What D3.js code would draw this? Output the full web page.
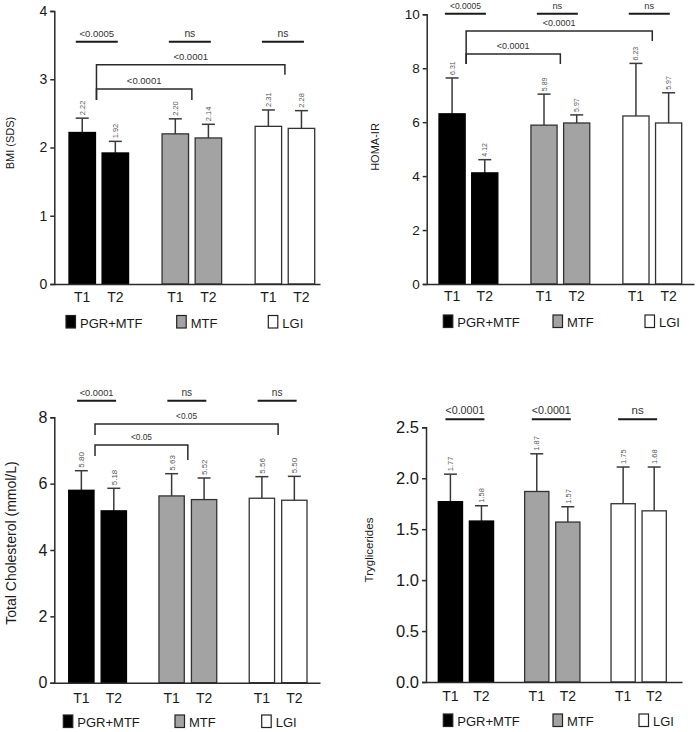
<!DOCTYPE html>
<html><head><meta charset="utf-8">
<script src="https://cdn.jsdelivr.net/npm/d3@7"></script>
<style>body{margin:0;background:#fff}svg{display:block;font-family:"Liberation Sans",Arial,sans-serif}</style>
</head><body><svg id="c" width="699" height="732"></svg>
<script>
// ---------- data ----------
const groups = ["PGR+MTF", "MTF", "LGI"];
const times = ["T1", "T2"];
const fills = ["#000000", "#a3a3a3", "#ffffff"];

const bmiMean = [2.22, 1.92, 2.20, 2.14, 2.31, 2.28];
const bmiErr  = [0.21, 0.17, 0.22, 0.20, 0.24, 0.26];
const bmiLabels = ["2.22", "1.92", "2.20", "2.14", "2.31", "2.28"];
const bmiTicks = [0, 1, 2, 3, 4];
const bmiPairs = ["<0.0005", "ns", "ns"];
const bmiBrackets = [{to: 2, label: "<0.0001"}, {to: 1, label: "<0.0001"}];

const homaMean = [6.31, 4.12, 5.89, 5.97, 6.23, 5.97];
const homaErr  = [1.33, 0.49, 1.15, 0.30, 1.95, 1.12];
const homaLabels = ["6.31", "4.12", "5.89", "5.97", "6.23", "5.97"];
const homaTicks = [0, 2, 4, 6, 8, 10];
const homaPairs = ["<0.0005", "ns", "ns"];
const homaBrackets = [{to: 2, label: "<0.0001"}, {to: 1, label: "<0.0001"}];

const cholMean = [5.80, 5.18, 5.63, 5.52, 5.56, 5.50];
const cholErr  = [0.59, 0.68, 0.67, 0.65, 0.65, 0.72];
const cholLabels = ["5.80", "5.18", "5.63", "5.52", "5.56", "5.50"];
const cholTicks = [0, 2, 4, 6, 8];
const cholPairs = ["<0.0001", "ns", "ns"];
const cholBrackets = [{to: 2, label: "<0.05"}, {to: 1, label: "<0.05"}];

const trigMean = [1.77, 1.58, 1.87, 1.57, 1.75, 1.68];
const trigErr  = [0.27, 0.15, 0.37, 0.15, 0.36, 0.43];
const trigLabels = ["1.77", "1.58", "1.87", "1.57", "1.75", "1.68"];
const trigTicks = [0, 0.5, 1.0, 1.5, 2.0, 2.5];
const trigPairs = ["<0.0001", "<0.0001", "ns"];
const trigBrackets = [];

// ---------- layout ----------
const panels = [
  {title: "BMI (SDS)", mean: bmiMean, err: bmiErr, labels: bmiLabels, ticks: bmiTicks, fmt: d3.format("d"),
   pairs: bmiPairs, brackets: bmiBrackets,
   ax: 54.3, axEnd: 320, y0: 284, y1: 11, bx: [69, 314.7], inner: 0.2, tickFont: 14, titleFont: 11, titleX: 14, titleY: 143,
   xlabY: 302, pairY: 41.7, pairFont: 9.5, pairW: 42, pairDx: -2, brY: [64.7, 89], brTickL: [35, 11], brTickR: [10, 11], brFont: 9.5,
   legY: 315.5, legX: [66, 176.7, 268.3], valFont: 7.5},
  {title: "HOMA-IR", mean: homaMean, err: homaErr, labels: homaLabels, ticks: homaTicks, fmt: d3.format("d"),
   pairs: homaPairs, brackets: homaBrackets,
   ax: 426.7, axEnd: 694, y0: 284, y1: 14.3, bx: [439, 681.7], inner: 0.2, tickFont: 13.5, titleFont: 11, titleX: 379, titleY: 147,
   xlabY: 301, pairY: 13.7, pairFont: 8.5, pairW: 41, pairDx: -3, brY: [31, 54], brTickL: [33, 10], brTickR: [10, 10], brFont: 9,
   legY: 315, legX: [443.3, 553, 645], valFont: 7},
  {title: "Total Cholesterol (mmol/L)", mean: cholMean, err: cholErr, labels: cholLabels, ticks: cholTicks, fmt: d3.format("d"),
   pairs: cholPairs, brackets: cholBrackets,
   ax: 54.3, axEnd: 320, y0: 682.7, y1: 417.3, bx: [68.7, 307], inner: 0.22, tickFont: 16, titleFont: 14, titleX: 16, titleY: 543,
   xlabY: 703, pairY: 400.7, pairFont: 9.3, pairW: 39, pairDx: -1, brY: [424, 445], brTickL: [11, 11], brTickR: [11, 15], brFont: 8.3,
   legY: 715, legX: [63.3, 175, 261.7], valFont: 8},
  {title: "Tryglicerides", mean: trigMean, err: trigErr, labels: trigLabels, ticks: trigTicks, fmt: d3.format(".1f"),
   pairs: trigPairs, brackets: trigBrackets,
   ax: 426, axEnd: 682, y0: 682, y1: 427.3, bx: [438.3, 666.3], inner: 0.22, tickFont: 16.5, titleFont: 11.5, titleX: 373, titleY: 550,
   xlabY: 701, pairY: 419.3, pairFont: 10.7, pairW: 39, pairDx: -1, brY: [], brTickL: [], brTickR: [], brFont: 9,
   legY: 714, legX: [443.3, 553, 639], valFont: 7.5}
];

const svg = d3.select("#c");
const ink = "#2b2b2b";

panels.forEach(p => {
  const g = svg.append("g");
  const y = d3.scaleLinear().domain([0, p.ticks[p.ticks.length - 1]]).range([p.y0, p.y1]);
  const xg = d3.scaleBand().domain(groups).range(p.bx).paddingInner(0.36).paddingOuter(0);
  const xt = d3.scaleBand().domain(times).range([0, xg.bandwidth()]).paddingInner(p.inner).paddingOuter(0);

  const rows = [];
  groups.forEach((gr, gi) => times.forEach((t, ti) => {
    const i = gi * 2 + ti;
    rows.push({gr, gi, t, mean: p.mean[i], err: p.err[i], label: p.labels[i], x: xg(gr) + xt(t)});
  }));
  const bw = xt.bandwidth();

  // error bars (upper only)
  const eb = g.append("g").attr("stroke", "#3a3a3a").attr("stroke-width", 1.5);
  rows.forEach(r => {
    const cx = r.x + bw / 2;
    eb.append("line").attr("x1", cx).attr("x2", cx).attr("y1", y(r.mean)).attr("y2", y(r.mean + r.err));
    eb.append("line").attr("x1", cx - 6.5).attr("x2", cx + 6.5).attr("y1", y(r.mean + r.err)).attr("y2", y(r.mean + r.err));
  });

  // bars
  g.append("g").selectAll("rect").data(rows).join("rect")
    .attr("x", d => d.x).attr("width", bw)
    .attr("y", d => y(d.mean)).attr("height", d => y(0) - y(d.mean))
    .attr("fill", d => fills[d.gi])
    .attr("stroke", d => d.gi === 0 ? "#000" : "#333").attr("stroke-width", 1.3);

  // value labels (rotated)
  g.append("g").selectAll("text").data(rows).join("text")
    .attr("transform", d => `translate(${d.x + bw / 2 + p.valFont * 0.36},${y(d.mean + d.err) - 3}) rotate(-90)`)
    .attr("font-size", p.valFont).attr("fill", "#555").text(d => d.label);

  // y axis
  const yAxis = d3.axisLeft(y).tickValues(p.ticks).tickFormat(p.fmt).tickSize(4).tickPadding(3);
  const ya = g.append("g").attr("transform", `translate(${p.ax},0)`).call(yAxis);
  ya.select(".domain").attr("stroke", ink).attr("stroke-width", 1.5);
  ya.selectAll(".tick line").attr("stroke", ink).attr("stroke-width", 1.5);
  ya.selectAll(".tick text").attr("font-size", p.tickFont).attr("fill", "#1a1a1a")
    .attr("font-family", '"Liberation Sans",Arial,sans-serif');

  // x axis baseline
  const xAxisScale = d3.scaleLinear().domain([0, 1]).range([p.ax, p.axEnd]);
  const xa = g.append("g").attr("transform", `translate(0,${p.y0})`).call(d3.axisBottom(xAxisScale).tickValues([]).tickSizeOuter(0));
  xa.select(".domain").attr("stroke", ink).attr("stroke-width", 1.5);

  // x labels T1/T2
  g.append("g").selectAll("text").data(rows).join("text")
    .attr("x", d => d.x + bw / 2).attr("y", p.xlabY).attr("text-anchor", "middle")
    .attr("font-size", 14).attr("fill", "#1a1a1a").text(d => d.t);

  // y title
  g.append("text").attr("transform", `translate(${p.titleX},${p.titleY}) rotate(-90)`)
    .attr("text-anchor", "middle").attr("font-size", p.titleFont).attr("fill", "#1a1a1a").text(p.title);

  // pair significance lines
  groups.forEach((gr, gi) => {
    const cx = xg(gr) + xg.bandwidth() / 2 + p.pairDx;
    g.append("line").attr("x1", cx - p.pairW / 2).attr("x2", cx + p.pairW / 2)
      .attr("y1", p.pairY).attr("y2", p.pairY).attr("stroke", "#1a1a1a").attr("stroke-width", 2);
    g.append("text").attr("x", cx).attr("y", p.pairY - 5).attr("text-anchor", "middle")
      .attr("font-size", p.pairs[gi] === "ns" ? p.pairFont + 0.8 : p.pairFont).attr("fill", "#333").text(p.pairs[gi]);
  });

  // brackets
  p.brackets.forEach((b, bi) => {
    const xl = xg(groups[0]) + xt("T1") + bw + 1;
    const xr = xg(groups[b.to]) + xg.bandwidth() / 2;
    const yy = p.brY[bi];
    g.append("path")
      .attr("d", `M${xl},${yy + p.brTickL[bi]}V${yy}H${xr}V${yy + p.brTickR[bi]}`)
      .attr("fill", "none").attr("stroke", "#2a2a2a").attr("stroke-width", 1.5);
    g.append("text").attr("x", (xl + xr) / 2).attr("y", yy - 5).attr("text-anchor", "middle")
      .attr("font-size", p.brFont).attr("fill", "#333").text(b.label);
  });

  // legend
  groups.forEach((gr, gi) => {
    g.append("rect").attr("x", p.legX[gi]).attr("y", p.legY).attr("width", 9.5).attr("height", 12.5)
      .attr("fill", fills[gi]).attr("stroke", "#222").attr("stroke-width", 1.2);
    g.append("text").attr("x", p.legX[gi] + 14).attr("y", p.legY + 12).attr("font-size", 13)
      .attr("fill", "#1a1a1a").text(gr);
  });
});
</script>
</body></html>
